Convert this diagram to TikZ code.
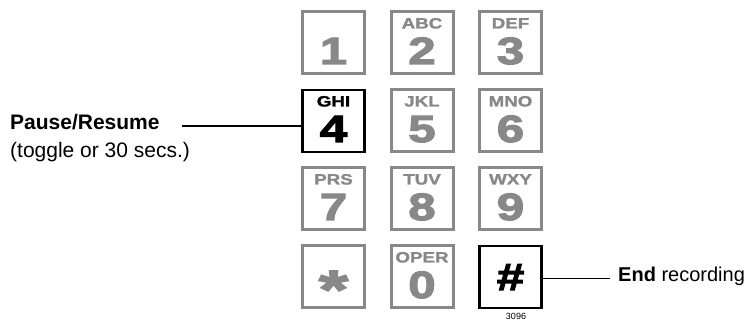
\documentclass[tikz,border=0pt]{standalone}
\usepackage{fontspec}
\setmainfont{Liberation Sans}
\newfontfamily\digitfont{Liberation Sans}[BoldFeatures={FakeStretch=1.3,FakeBold=3}]
\newfontfamily\letterfont{Liberation Sans}[BoldFeatures={FakeStretch=1.25,FakeBold=1.5}]
\newfontfamily\starfont{Liberation Sans}[BoldFeatures={FakeStretch=1.4,FakeBold=3}]
\usetikzlibrary{calc,positioning}
\definecolor{keygray}{RGB}{136,136,136}
\tikzset{
 kp key/.style={draw=keygray,line width=3pt,minimum size=62pt,inner sep=0pt,outer sep=0pt},
 kp hot/.style={kp key,draw=black,line width=2.5pt},
 kp digit/.style={anchor=base,inner sep=0pt,text=keygray,
                  font=\digitfont\bfseries\fontsize{38}{38}\selectfont},
 kp letters/.style={anchor=base,inner sep=0pt,text=keygray,
                  font=\letterfont\bfseries\fontsize{15}{15}\selectfont},
 kp label/.style={anchor=base west,inner sep=0pt,font=\fontsize{20}{20}\selectfont},
 kp lead/.style={line width=1.5pt}
}
\begin{document}
\begin{tikzpicture}[x=1pt,y=-1pt]
 \useasboundingbox (0,0) rectangle (755,320);
 % grey keys
 \foreach \d/\l/\c/\r in {1//0/0,2/ABC/1/0,3/DEF/2/0,5/JKL/1/1,6/MNO/2/1,
                          7/PRS/0/2,8/TUV/1/2,9/WXY/2/2,0/OPER/1/3}{
   \node[kp key] (key\d) at (333.5+88.5*\c,43+78*\r) {};
   \node[kp letters] (abc\d) at ($(key\d)+(0,-14.5)$) {\l};
   \node[kp digit] (num\d) at ($(key\d)+(0,21)$) {\d};
 }
 \node[kp key] (keystar) at (333.5,277) {};
 \node[kp digit,font=\starfont\bfseries\fontsize{54}{54}\selectfont]
   (numstar) at ($(keystar)+(0,31)$) {*};
 % keys in use
 \node[kp hot] (key4) at (333.5,121) {};
 \node[kp letters,text=black] (abc4) at ($(key4)+(0,-14.5)$) {GHI};
 \node[kp digit,text=black] (num4) at ($(key4)+(0,21)$) {4};
 \node[kp hot] (keyhash) at (510.5,277) {};
 \node[kp digit,text=black] (numhash) at ($(keyhash)+(0,13)$) {\#};
 % labels
 \node[kp label,font=\fontsize{21}{21}\selectfont] (pause) at (10,130) {\textbf{Pause/Resume}};
 \node[kp label,font=\fontsize{21}{21}\selectfont] (toggle) at (10,158) {(toggle or 30 secs.)};
 \coordinate (pausetip) at (181.5,126);
 \draw[kp lead] (pausetip) -- (key4.west |- pausetip);
 \node[kp label] (endrec) at (618,282) {\textbf{End} recording};
 \coordinate (endtip) at (609.5,278.5);
 \draw[kp lead] (keyhash.east |- endtip) -- (endtip);
 \node[anchor=base,inner sep=0pt,text depth=0pt,font=\fontsize{9}{9}\selectfont] (fig) at (516,319.5) {3096};
\end{tikzpicture}
\end{document}
